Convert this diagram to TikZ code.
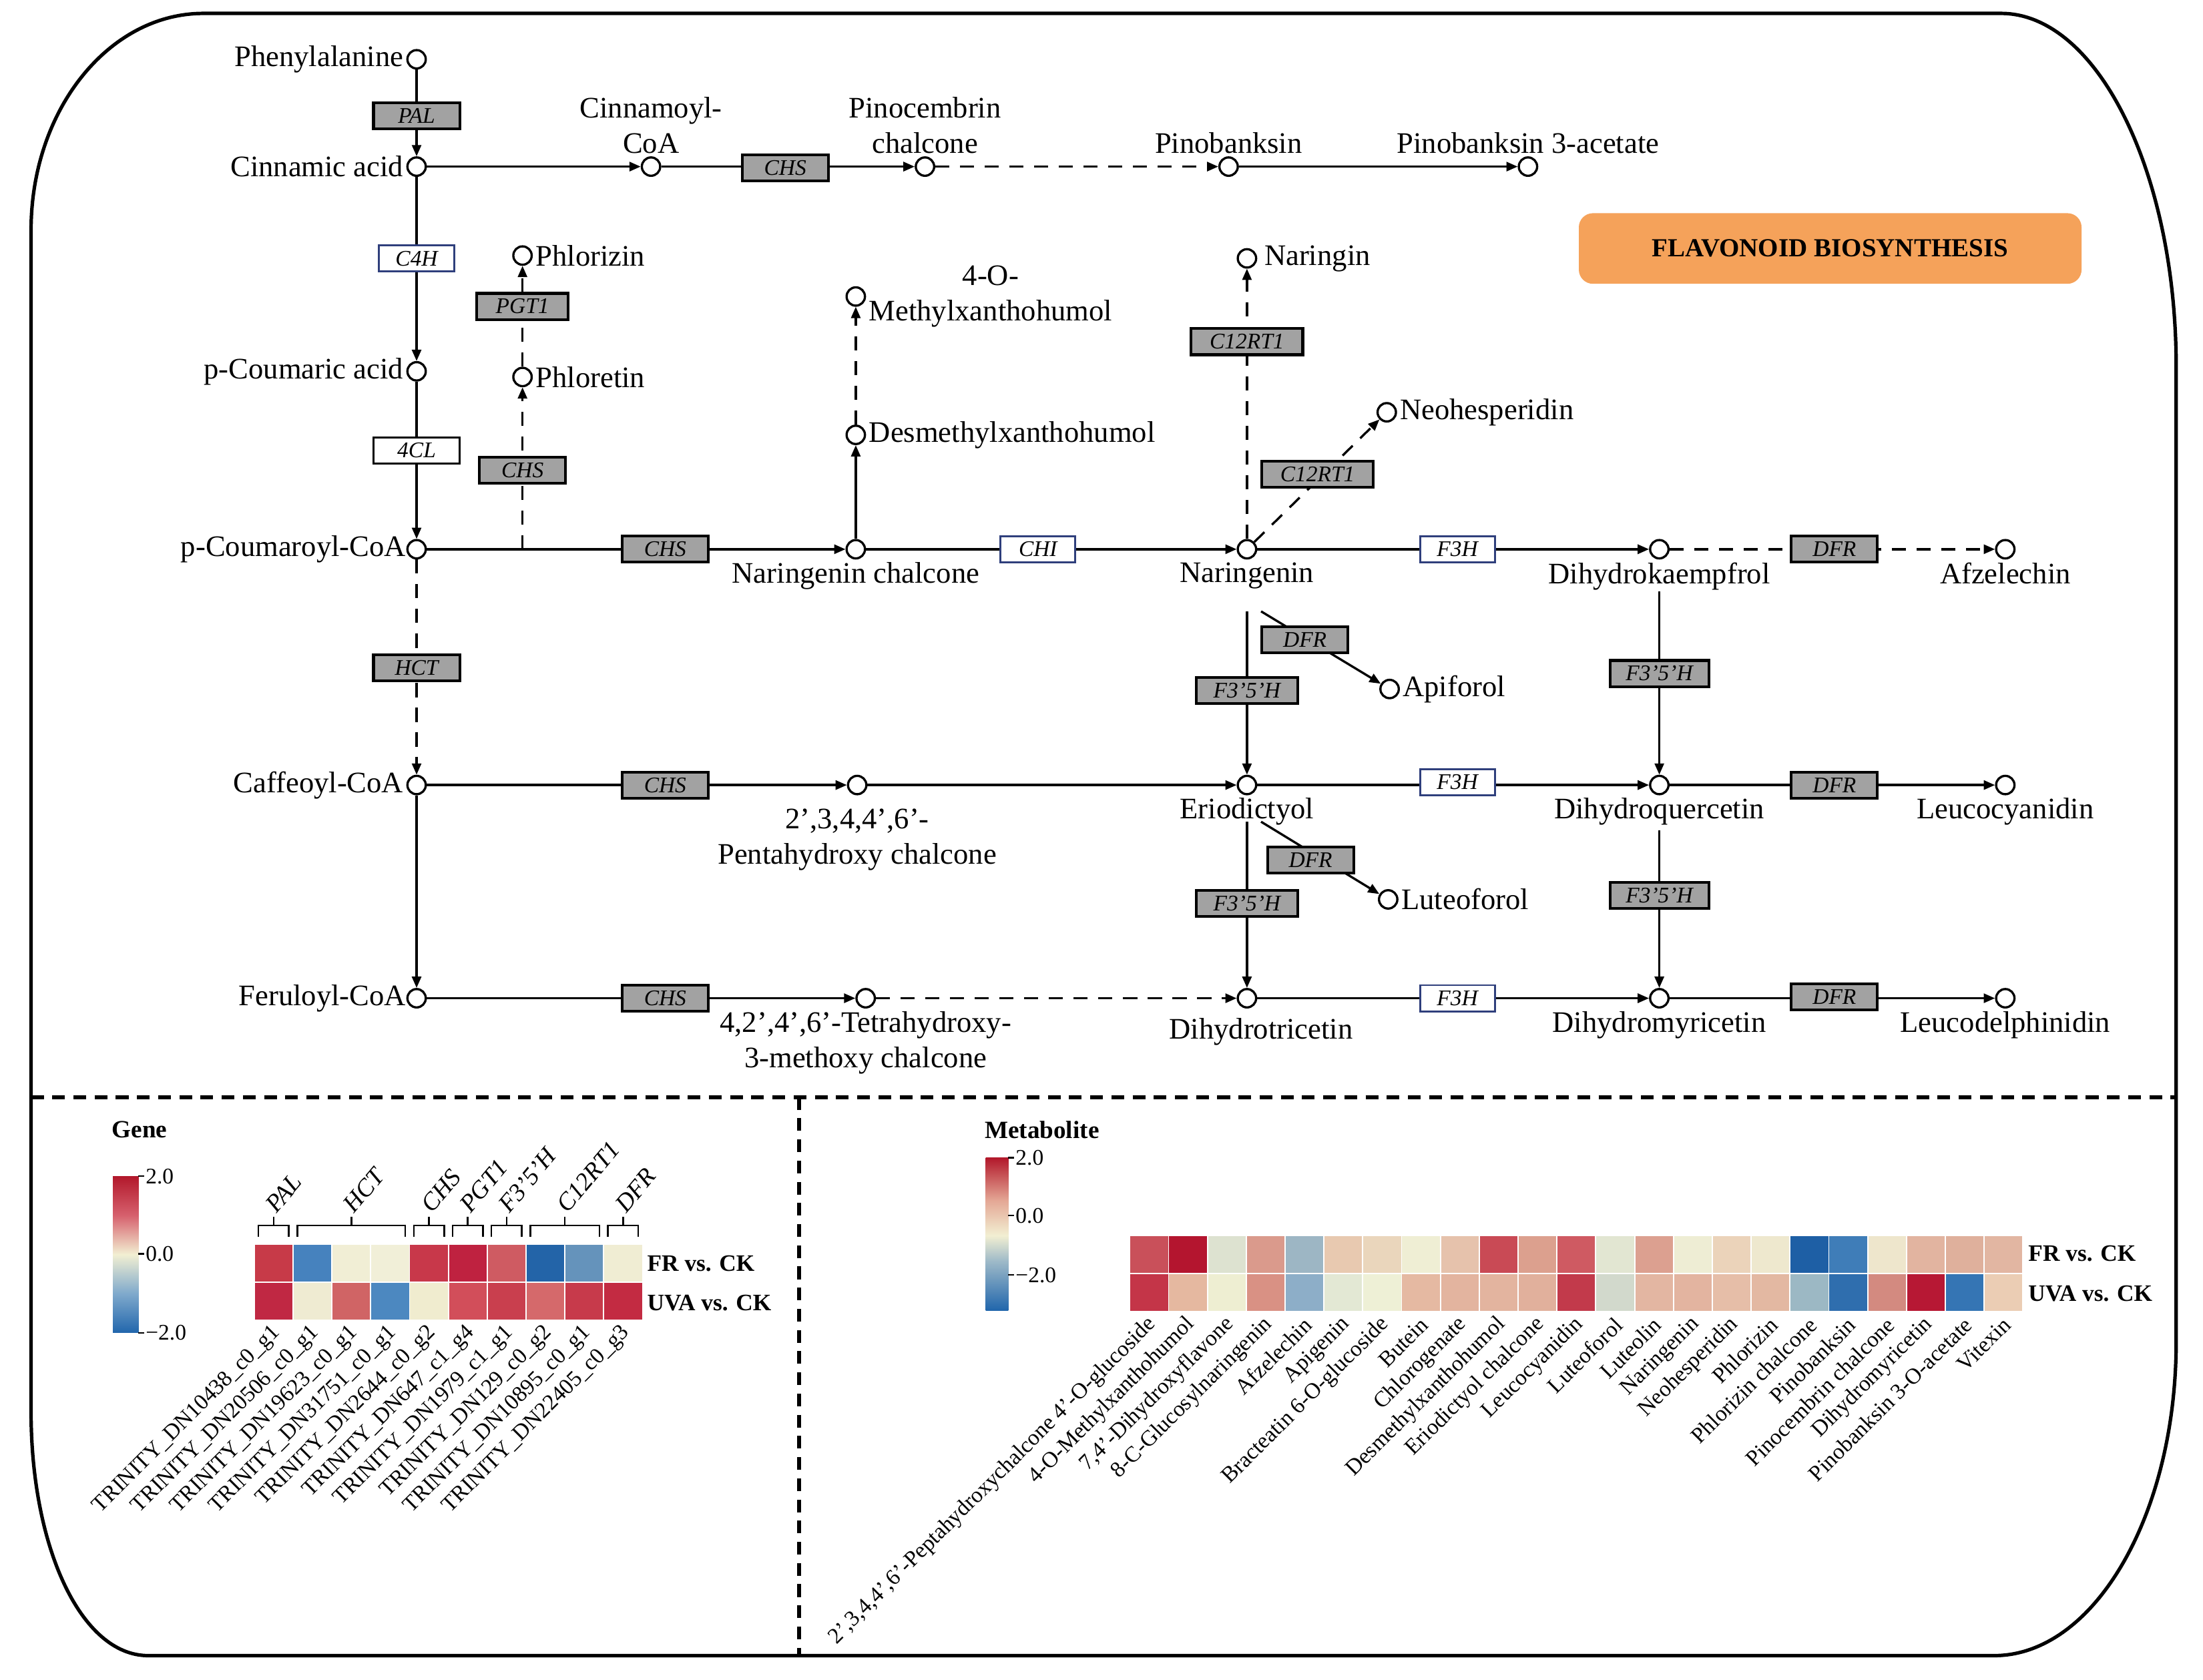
\documentclass[tikz,border=0pt]{standalone}
\usepackage{fontspec}
\setmainfont{Liberation Serif}
\usetikzlibrary{arrows.meta}

\definecolor{boxgray}{HTML}{A2A2A2}
\definecolor{boxblue}{HTML}{2F3F7C}
\definecolor{titleorange}{HTML}{F5A25A}
\definecolor{hmred}{HTML}{B2182B}
\definecolor{hmpink}{HTML}{D6606D}
\definecolor{hmcream}{HTML}{F2EFD2}
\definecolor{hmlblue}{HTML}{7FA9CC}
\definecolor{hmblue}{HTML}{2166AC}
\definecolor{hmsalmon}{HTML}{E4A795}
\definecolor{hmgrey}{HTML}{9DB9C8}

\pgfdeclareverticalshading{genebar}{100bp}{color(0bp)=(hmblue); color(25bp)=(hmblue); color(37.5bp)=(hmlblue); color(50bp)=(hmcream); color(62.5bp)=(hmpink); color(75bp)=(hmred); color(100bp)=(hmred)}
\pgfdeclareverticalshading{metbar}{100bp}{color(0bp)=(hmblue); color(25bp)=(hmblue); color(41bp)=(hmgrey); color(49.5bp)=(hmcream); color(61bp)=(hmsalmon); color(75bp)=(hmred); color(100bp)=(hmred)}

\begin{document}
\begin{tikzpicture}[x=0.2mm, y=-0.2mm,
    met/.style={circle, draw, line width=0.9pt, fill=white, minimum size=2.6mm, inner sep=0pt},
    lbl/.style={font=\fontsize{12}{14.2}\selectfont, inner sep=1pt, align=center},
    gbox/.style={draw, line width=1.1pt, fill=boxgray, minimum width=12.2mm, minimum height=3.7mm, inner sep=0pt, font=\fontsize{9}{9}\selectfont\itshape},
    bbox/.style={gbox, fill=white, draw=boxblue, line width=0.8pt, minimum width=10.6mm},
    wbox/.style={gbox, fill=white, line width=0.8pt},
    rxn/.style={line width=0.9pt, -{Triangle[length=1.6mm,width=1.3mm]}},
    dsh/.style={dash pattern=on 2mm off 1.5mm},
    divider/.style={line width=1.6pt, dash pattern=on 1.8mm off 1.2mm},
    hm/.style={draw=white, line width=0.5pt},
    ttl/.style={font=\fontsize{10}{12}\selectfont\bfseries, inner sep=0pt, anchor=west},
    tickl/.style={font=\fontsize{9}{10}\selectfont, inner sep=0.5pt, anchor=west},
    rowlab/.style={font=\fontsize{9.5}{11}\selectfont\bfseries, inner sep=0pt, anchor=west},
    collab/.style={font=\fontsize{9}{10}\selectfont, inner sep=0.5pt, anchor=east, rotate=45},
    grplab/.style={font=\fontsize{10}{11}\selectfont\itshape, inner sep=0.5pt, anchor=west, rotate=50}
  ]
    \useasboundingbox (0,0) rectangle (1560,1189.4);

    \draw[line width=1.4pt] (22,163) .. controls (22,78) and (77,9.5) .. (144,9.5) -- (1417,9.5)
      .. controls (1485,9.5) and (1541,122) .. (1541,260) -- (1541,950)
      .. controls (1541,1073) and (1483,1172.6) .. (1412,1172.6) -- (105,1172.6)
      .. controls (57,1172.6) and (22,1095) .. (22,1000) -- cycle;
    \draw[divider] (22,777) -- (1541,777);
    \draw[divider] (566,777) -- (566,1172.6);

    \node[met] (phe) at (295,42) {};
    \node[met] (cin) at (295,118) {};
    \node[met] (pca) at (295,263) {};
    \node[met] (pcc) at (295,389) {};
    \node[met] (caf) at (295,556) {};
    \node[met] (fer) at (295,707) {};
    \node[met] (cic) at (461,118) {};
    \node[met] (pch) at (655,118) {};
    \node[met] (pnb) at (870,118) {};
    \node[met] (pba) at (1082,118) {};
    \node[met] (phz) at (370,181) {};
    \node[met] (pht) at (370,267) {};
    \node[met] (mxh) at (606,210) {};
    \node[met] (dxh) at (606,308) {};
    \node[met] (nch) at (606,389) {};
    \node[met] (ngn) at (883,183) {};
    \node[met] (nhs) at (982,292) {};
    \node[met] (nar) at (883,389) {};
    \node[met] (dhk) at (1175,389) {};
    \node[met] (afz) at (1420,389) {};
    \node[met] (apf) at (984,488) {};
    \node[met] (pen) at (607,556) {};
    \node[met] (eri) at (883,556) {};
    \node[met] (dhq) at (1175,556) {};
    \node[met] (lcy) at (1420,556) {};
    \node[met] (lut) at (983,637) {};
    \node[met] (thc) at (613,707) {};
    \node[met] (dht) at (883,707) {};
    \node[met] (dhm) at (1175,707) {};
    \node[met] (ldp) at (1420,707) {};

    \node[lbl, anchor=east] (pheL) at (phe.west) {Phenylalanine};
    \node[lbl, anchor=east] (cinL) at (cin.west) {Cinnamic acid};
    \node[lbl, anchor=east] (pcaL) at (pca.west) {p-Coumaric acid};
    \node[lbl, anchor=east, inner sep=0pt] (pccL) at (pcc.west) {p-Coumaroyl-CoA};
    \node[lbl, anchor=east] (cafL) at (caf.west) {Caffeoyl-CoA};
    \node[lbl, anchor=east, inner sep=0pt] (ferL) at (fer.west) {Feruloyl-CoA};
    \node[lbl, anchor=south] (cicL) at (cic.north) {Cinnamoyl-\\CoA};
    \node[lbl, anchor=south] (pchL) at (pch.north) {Pinocembrin\\chalcone};
    \node[lbl, anchor=south] (pnbL) at (pnb.north) {Pinobanksin};
    \node[lbl, anchor=south] (pbaL) at (pba.north) {Pinobanksin 3-acetate};
    \node[lbl, anchor=west] (phzL) at (phz.east) {Phlorizin};
    \node[lbl, anchor=west] (phtL) at (pht.east) {Phloretin};
    \node[lbl, anchor=west] (mxhL) at (mxh.east) {4-O-\\Methylxanthohumol};
    \node[lbl, anchor=west] (dxhL) at (dxh.east) {Desmethylxanthohumol};
    \node[lbl, anchor=west] (ngnL) at ([xshift=0.6mm]ngn.east) {Naringin};
    \node[lbl, anchor=west] (nhsL) at (nhs.east) {Neohesperidin};
    \node[lbl, anchor=west] (apfL) at (apf.east) {Apiforol};
    \node[lbl, anchor=west] (lutL) at (lut.east) {Luteoforol};
    \node[lbl, anchor=north] (nchL) at (nch.south) {Naringenin chalcone};
    \node[lbl, anchor=north] (narL) at (nar.south) {Naringenin};
    \node[lbl, anchor=north] (dhkL) at (dhk.south) {Dihydrokaempfrol};
    \node[lbl, anchor=north] (afzL) at (afz.south) {Afzelechin};
    \node[lbl, anchor=north] (penL) at ([yshift=-1.5mm]pen.south) {2',3,4,4',6'-\\Pentahydroxy chalcone};
    \node[lbl, anchor=north] (eriL) at (eri.south) {Eriodictyol};
    \node[lbl, anchor=north] (dhqL) at (dhq.south) {Dihydroquercetin};
    \node[lbl, anchor=north] (lcyL) at (lcy.south) {Leucocyanidin};
    \node[lbl, anchor=north] (thcL) at (thc.south) {4,2',4',6'-Tetrahydroxy-\\3-methoxy chalcone};
    \node[lbl, anchor=north] (dhtL) at ([xshift=2mm,yshift=-1mm]dht.south) {Dihydrotricetin};
    \node[lbl, anchor=north] (dhmL) at (dhm.south) {Dihydromyricetin};
    \node[lbl, anchor=north] (ldpL) at (ldp.south) {Leucodelphinidin};

    \coordinate (pccB) at (370,389);
    \coordinate (narD) at (883,433);
    \coordinate (narR) at (893,433);
    \coordinate (dhkD) at (1175,419);
    \coordinate (eriD) at (883,582);
    \coordinate (eriR) at (893,582);
    \coordinate (dhqD) at (1175,588);

    \draw[rxn] (phe) -- (cin);
    \draw[rxn] (cin) -- (pca);
    \draw[rxn] (pca) -- (pcc);
    \draw[rxn, dsh] (pcc) -- (caf);
    \draw[rxn] (caf) -- (fer);
    \draw[rxn] (cin) -- (cic);
    \draw[rxn] (cic) -- (pch);
    \draw[rxn, dsh] (pch) -- (pnb);
    \draw[rxn] (pnb) -- (pba);
    \draw[rxn, dsh] (pccB) -- (pht);
    \draw[rxn, dsh] (pht) -- (phz);
    \draw[rxn] (pcc) -- (nch);
    \draw[rxn] (nch) -- (dxh);
    \draw[rxn, dsh] (dxh) -- (mxh);
    \draw[rxn] (nch) -- (nar);
    \draw[rxn, dsh] (nar) -- (ngn);
    \draw[rxn, dsh] (nar) -- (nhs);
    \draw[rxn] (nar) -- (dhk);
    \draw[rxn, dsh] (dhk) -- (afz);
    \draw[rxn] (narD) -- (eri);
    \draw[rxn] (narR) -- (apf);
    \draw[rxn] (dhkD) -- (dhq);
    \draw[rxn] (caf) -- (pen);
    \draw[rxn] (pen) -- (eri);
    \draw[rxn] (eri) -- (dhq);
    \draw[rxn] (dhq) -- (lcy);
    \draw[rxn] (eriD) -- (dht);
    \draw[rxn] (eriR) -- (lut);
    \draw[rxn] (dhqD) -- (dhm);
    \draw[rxn] (fer) -- (thc);
    \draw[rxn, dsh] (thc) -- (dht);
    \draw[rxn] (dht) -- (dhm);
    \draw[rxn] (dhm) -- (ldp);

    \node[gbox] (pal) at (295,82) {PAL};
    \node[bbox] (c4h) at (295,183) {C4H};
    \node[wbox] (fcl) at (295,319) {4CL};
    \node[gbox] (hct) at (295,473) {HCT};
    \node[gbox] (chs1) at (556,119) {CHS};
    \node[gbox, minimum width=13mm] (pgt) at (370,217) {PGT1};
    \node[gbox] (chs2) at (370,333) {CHS};
    \node[gbox] (chs3) at (471,389) {CHS};
    \node[bbox] (chi) at (735,389) {CHI};
    \node[bbox] (f3h1) at (1032,389) {F3H};
    \node[gbox] (dfr1) at (1299,389) {DFR};
    \node[gbox, minimum width=15.8mm] (crt1) at (883,242) {C12RT1};
    \node[gbox, minimum width=15.8mm] (crt2) at (933,336) {C12RT1};
    \node[gbox] (dfr2) at (924,453) {DFR};
    \node[gbox, minimum width=14.4mm] (fh1) at (883,489) {F3'5'H};
    \node[gbox, minimum width=14mm] (fh2) at (1175,477) {F3'5'H};
    \node[gbox] (chs4) at (471,556) {CHS};
    \node[bbox] (f3h2) at (1032,554) {F3H};
    \node[gbox] (dfr3) at (1299,556) {DFR};
    \node[gbox] (dfr4) at (928,609) {DFR};
    \node[gbox, minimum width=14.4mm] (fh3) at (883,640) {F3'5'H};
    \node[gbox, minimum width=14mm] (fh4) at (1175,634) {F3'5'H};
    \node[gbox] (chs5) at (471,707) {CHS};
    \node[bbox] (f3h3) at (1032,707) {F3H};
    \node[gbox] (dfr5) at (1299,706) {DFR};

    \node[fill=titleorange, rounded corners=2mm, minimum width=71.2mm, minimum height=10mm,
      font=\fontsize{10.5}{12}\selectfont\bfseries] (ttlbox) at (1296,176) {FLAVONOID BIOSYNTHESIS};

    \node[ttl] (geneT) at (79,800) {Gene};
    \shade[shading=genebar] (80,833) rectangle (98,944);
    \foreach \v/\t in {833/2.0, 888/0.0, 944/−2.0} {
      \draw[line width=0.6pt] (98,\v) -- (102,\v);
      \node[tickl] (gt\v) at (102,\v) {\t};
    }
    \foreach \c [count=\i from 0] in {C73A48,4682BE,F1EED5,F1EFD8,C8384A,BF2240,CF5B62,2364A8,6593BB,F0EDD3} {
      \definecolor{cellc}{HTML}{\c}
      \filldraw[hm, fill=cellc] (180+27.5*\i,881) rectangle ++(27.5,27);
    }
    \foreach \c [count=\i from 0] in {C02843,EFEBD2,D06465,4C88C0,F0ECCF,D24E5A,C93F4E,D5696B,C73A4B,C32B42} {
      \definecolor{cellc}{HTML}{\c}
      \filldraw[hm, fill=cellc] (180+27.5*\i,908) rectangle ++(27.5,27);
    }
    \foreach \a/\b/\n [count=\k] in {0/0/PAL,1/3/HCT,4/4/CHS,5/5/PGT1,6/6/F3'5'H,7/8/C12RT1,9/9/DFR} {
      \pgfmathsetmacro{\xa}{180+27.5*\a+3}
      \pgfmathsetmacro{\xb}{180+27.5*\b+24.5}
      \pgfmathsetmacro{\xm}{(\xa+\xb)/2}
      \draw[line width=0.7pt] (\xa,876) -- (\xa,868) -- (\xb,868) -- (\xb,876);
      \draw[line width=0.7pt] (\xm,868) -- (\xm,862);
      \node[grplab] (gg\k) at (\xm-3,857) {\n};
    }
    \foreach \t [count=\i from 0] in {TRINITY\_DN10438\_c0\_g1, TRINITY\_DN20506\_c0\_g1,
        TRINITY\_DN19623\_c0\_g1, TRINITY\_DN31751\_c0\_g1, TRINITY\_DN2644\_c0\_g2,
        TRINITY\_DN647\_c1\_g4, TRINITY\_DN1979\_c1\_g1, TRINITY\_DN129\_c0\_g2,
        TRINITY\_DN10895\_c0\_g1, TRINITY\_DN22405\_c0\_g3} {
      \node[collab] (gl\i) at (180+27.5*\i+17,941) {\t};
    }
    \node[rowlab] (gfr) at (458,895) {FR vs. CK};
    \node[rowlab] (guva) at (458,923) {UVA vs. CK};

    \node[ttl] (metT) at (697,800) {Metabolite};
    \shade[shading=metbar] (698,820) rectangle (714,928);
    \foreach \v/\t in {820/2.0, 861/0.0, 903/−2.0} {
      \draw[line width=0.6pt] (714,\v) -- (718,\v);
      \node[tickl] (mt\v) at (718,\v) {\t};
    }
    \foreach \c [count=\i from 0] in {C9505A,B4152F,DDE2D0,DA9A8C,9DB6C4,E8C9B0,EAD6BC,EFEED4,E6C2AC,C94A55,DCA08E,CF5A62,E2E6D2,DCA090,EEEDD4,EBD3BA,EEE8CE,1E5FA5,3F7DB8,EEE6CC,E2B4A0,DFB09C,E2B6A2} {
      \definecolor{cellc}{HTML}{\c}
      \filldraw[hm, fill=cellc] (800+27.5*\i,875) rectangle ++(27.5,27);
    }
    \foreach \c [count=\i from 0] in {C43548,E5B8A0,EEEED2,D99184,8DAEC8,E3E8D4,EEF0D6,E5B9A2,E3B49F,E3B49F,E1B09C,C23A4B,D2D9CC,E3B6A2,E3B4A0,E6BEA8,E3B8A2,9CB8C4,2F6EAE,D38A80,B71834,3575B4,EBCDB4} {
      \definecolor{cellc}{HTML}{\c}
      \filldraw[hm, fill=cellc] (800+27.5*\i,902) rectangle ++(27.5,27);
    }
    \foreach \t [count=\i from 0] in {{2',3,4,4',6'-Peptahydroxychalcone 4'-O-glucoside}, 4-O-Methylxanthohumol,
        {7,4'-Dihydroxyflavone}, 8-C-Glucosylnaringenin, Afzelechin, Apigenin, Bracteatin 6-O-glucoside,
        Butein, Chlorogenate, Desmethylxanthohumol, Eriodictyol chalcone, Leucocyanidin, Luteoforol,
        Luteolin, Naringenin, Neohesperidin, Phlorizin, Phlorizin chalcone, Pinobanksin,
        Pinocembrin chalcone, Dihydromyricetin, Pinobanksin 3-O-acetate, Vitexin} {
      \node[collab] (ml\i) at (800+27.5*\i+17,935) {\t};
    }
    \node[rowlab] (mfr) at (1436,888) {FR vs. CK};
    \node[rowlab] (muva) at (1436,916) {UVA vs. CK};
\end{tikzpicture}
\end{document}
